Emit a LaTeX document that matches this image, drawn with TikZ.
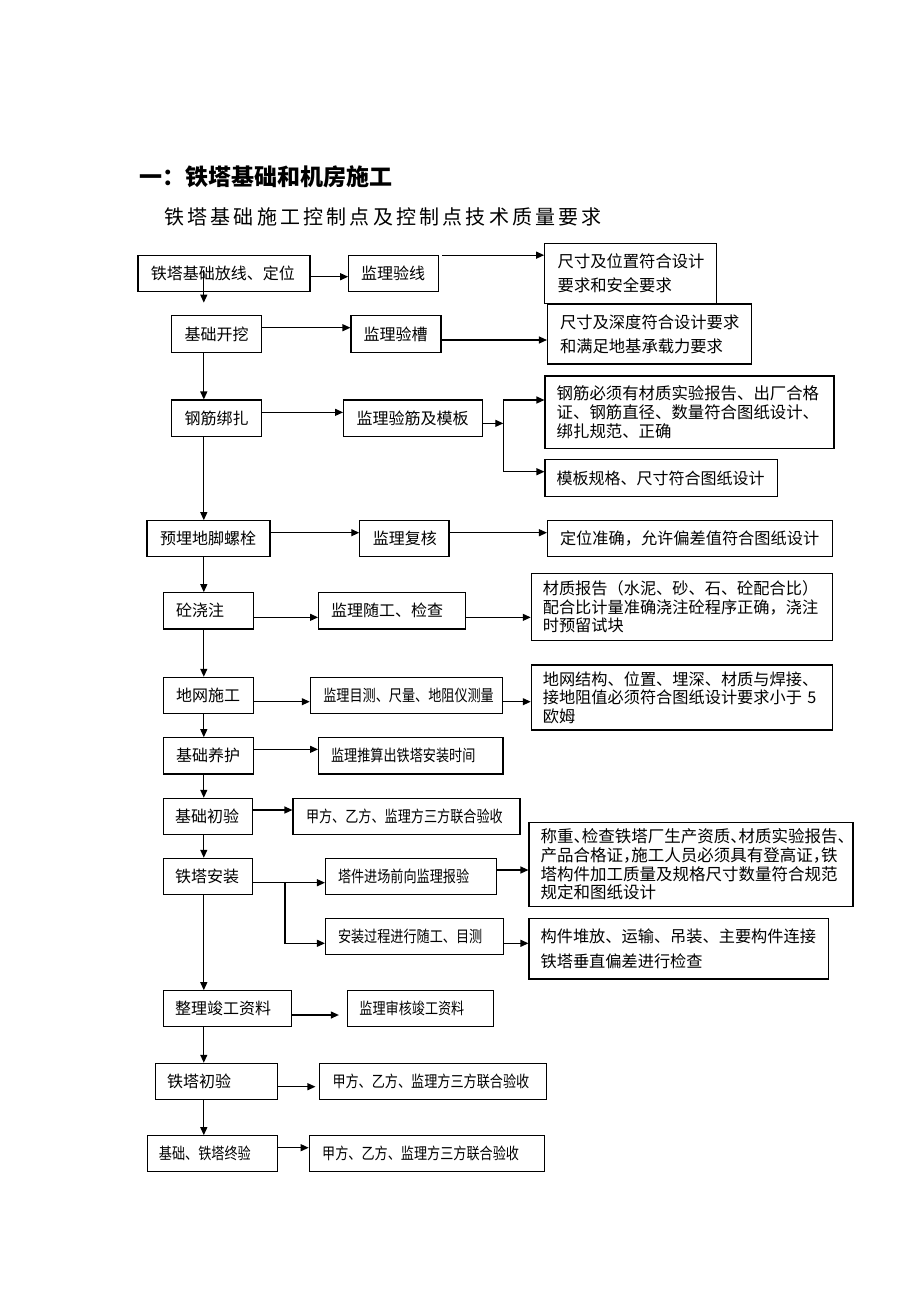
\documentclass[tikz,border=0pt]{standalone}
\usepackage{fontspec}
\setmainfont{Noto Sans CJK SC}
\usetikzlibrary{arrows.meta}
\newcommand\cn[1]{\scalebox{0.82}[1]{#1}}
\newcommand\hwp[1]{\makebox[0.5em][l]{#1}}
\newcommand\gp{\hspace{3.2pt}}
\newcommand\mkbox[8]{%
  \pgfmathsetmacro\mbcx{(#2+#4)/2}%
  \pgfmathsetmacro\mbcy{(#3+#5)/2}%
  \pgfmathsetmacro\mbtw{#4-#2-2*#6}%
  \pgfmathsetmacro\mbh{#5-#3}%
  \node[box,#7,text width=\mbtw pt,minimum height=\mbh pt,inner xsep=#6pt] (#1) at (\mbcx,\mbcy) {#8};}
\tikzset{
  box/.style={draw, line width=1.1pt, align=left, inner ysep=0pt,
    font=\fontsize{16}{19}\selectfont},
  arr/.style={line width=1.2pt, -{Triangle[length=8pt,width=7pt]}},
  ln/.style={line width=1.2pt},
  ttl/.style={inner sep=0pt, anchor=west}
}
\begin{document}
\begin{tikzpicture}[x=1pt,y=-1pt]
\useasboundingbox (0,0) rectangle (920,1302);
\fill[white] (0,0) rectangle (920,1302);
% titles
\node[ttl, font=\fontsize{23}{24}\selectfont\bfseries] (t1) at (139,177) {一：铁塔基础和机房施工};
\node[ttl, font=\fontsize{20}{22}\selectfont] (t2) at (164,216.5)
 {铁\gp 塔\gp 基\gp 础\gp 施\gp 工\gp 控\gp 制\gp 点\gp 及\gp 控\gp 制\gp 点\gp 技\gp 术\gp 质\gp 量\gp 要\gp 求};
\coordinate (colx) at (203.8,0);
% boxes
\mkbox{b1}{138}{255.7}{310}{291.7}{12.8}{}{铁塔基础放线、定位}
\mkbox{yx}{348.7}{255.7}{438.8}{291.7}{12.3}{}{监理验线}
\mkbox{jx1}{544.7}{243.3}{716.2}{303.3}{13}{font=\fontsize{16.3}{24.3}\selectfont}{尺寸及位置符合设计\\要求和安全要求}
\mkbox{kw}{171.6}{315.7}{261.3}{352.3}{13}{}{基础开挖}
\mkbox{yc}{351}{315.7}{441}{352.3}{12.5}{}{监理验槽}
\mkbox{jx2}{547.5}{304}{751.8}{364}{12.5}{font=\fontsize{16.3}{24.3}\selectfont}{尺寸及深度符合设计要求\\和满足地基承载力要求}
\mkbox{gj}{171.6}{400}{261.3}{436.7}{13}{}{钢筋绑扎}
\mkbox{yj}{343.6}{400}{482.3}{436.7}{13}{}{监理验筋及模板}
\mkbox{gb}{545}{376}{834}{448.3}{11.7}{font=\fontsize{16.4}{19.2}\selectfont}{钢筋必须有材质实验报告、出厂合格\\证、钢筋直径、数量符合图纸设计、\\绑扎规范、正确}
\mkbox{mb}{545}{459.3}{777.3}{496.7}{11.7}{}{模板规格、尺寸符合图纸设计}
\mkbox{yb}{147}{520.7}{270}{556.7}{13}{}{预埋地脚螺栓}
\mkbox{fh}{359.8}{520.7}{449}{556.7}{13}{}{监理复核}
\mkbox{dw}{547.5}{520.7}{832.7}{556.7}{12.5}{font=\fontsize{16.2}{19}\selectfont}{定位准确，允许偏差值符合图纸设计}
\mkbox{tj}{163.7}{592.7}{253.4}{629}{12.5}{}{砼浇注}
\mkbox{sg}{318.6}{592.7}{465.2}{629}{12.5}{}{监理随工、检查}
\mkbox{cz}{531.3}{573.3}{832.7}{640.7}{11.5}{font=\fontsize{16.2}{18.4}\selectfont}{材质报告（水泥、砂、石、砼配合比）\\配合比计量准确浇注砼程序正确，浇注\\时预留试块}
\mkbox{dwsg}{163.7}{677.3}{253.4}{713.3}{12.5}{}{地网施工}
\mkbox{mc}{310.3}{677.3}{502.2}{713.3}{13}{}{\cn{监理目测、尺量、地阻仪测量}}
\mkbox{dwj}{531.3}{665}{832.7}{730}{11.5}{font=\fontsize{16.2}{18.4}\selectfont}{地网结构、位置、埋深、材质与焊接、\\接地阻值必须符合图纸设计要求小于 5\\欧姆}
\mkbox{yh}{163.7}{737.7}{253.4}{774}{12.5}{}{基础养护}
\mkbox{ts}{318.6}{737.7}{503}{774}{12.5}{}{\cn{监理推算出铁塔安装时间}}
\mkbox{cy1}{163.5}{798.3}{252.4}{834.3}{11.7}{}{基础初验}
\mkbox{jf1}{293}{798.3}{520}{834.3}{13}{}{\cn{甲方、乙方、监理方三方联合验收}}
\mkbox{az}{163.5}{858.3}{252.4}{894.3}{11.7}{}{铁塔安装}
\mkbox{tjj}{325.5}{858.3}{496.4}{894.3}{12.5}{}{\cn{塔件进场前向监理报验}}
\mkbox{zz}{529}{822.3}{853}{906.7}{11.6}{font=\fontsize{16.5}{18.6}\selectfont}{称重\hwp{、}检查铁塔厂生产资质\hwp{、}材质实验报告\hwp{、}\\产品合格证\hwp{，}施工人员必须具有登高证\hwp{，}铁\\塔构件加工质量及规格尺寸数量符合规范\\规定和图纸设计}
\mkbox{az2}{325.5}{918.3}{503.8}{954.3}{12.5}{}{\cn{安装过程进行随工、目测}}
\mkbox{gjd}{529}{918.3}{828.3}{979}{11.6}{font=\fontsize{16.2}{25}\selectfont}{构件堆放、运输、吊装、主要构件连接\\铁塔垂直偏差进行检查}
\mkbox{zl}{163.5}{990.7}{291.5}{1026.7}{11.7}{}{整理竣工资料}
\mkbox{sh}{347.4}{990.7}{493.1}{1026.7}{12}{}{\cn{监理审核竣工资料}}
\mkbox{tc}{155.6}{1063.3}{277.1}{1099.3}{11.6}{}{铁塔初验}
\mkbox{jf2}{319.5}{1063.3}{546.7}{1099.3}{13}{}{\cn{甲方、乙方、监理方三方联合验收}}
\mkbox{zy}{147.2}{1135.7}{277.1}{1171.7}{11.7}{}{\cn{基础、铁塔终验}}
\mkbox{jf3}{309.2}{1135.7}{544.3}{1171.7}{13}{}{\cn{甲方、乙方、监理方三方联合验收}}
% vertical main flow
\draw[arr] ([yshift=4pt]b1.center -| colx) -- ([yshift=12.5pt]kw.north -| colx);
\draw[arr] (kw.south -| colx) -- (gj.north -| colx);
\draw[arr] (gj.south -| colx) -- (yb.north -| colx);
\draw[arr] (yb.south -| colx) -- (tj.north -| colx);
\draw[arr] (tj.south -| colx) -- (dwsg.north -| colx);
\draw[arr] (dwsg.south -| colx) -- (yh.north -| colx);
\draw[arr] (yh.south -| colx) -- (cy1.north -| colx);
\draw[arr] (cy1.south -| colx) -- (az.north -| colx);
\draw[arr] (az.south -| colx) -- (zl.north -| colx);
\draw[arr] (zl.south -| colx) -- (tc.north -| colx);
\draw[arr] (tc.south -| colx) -- (zy.north -| colx);
% horizontal arrows
\draw[arr] ([yshift=-3pt]b1.east) -- ([yshift=-3pt]yx.west);
\draw[arr] ([xshift=3pt]yx.north east) -- (jx1.west |- yx.north);
\draw[arr] ([yshift=6.3pt]kw.east) -- ([yshift=6.3pt]yc.west);
\draw[arr] ([yshift=-6pt]yc.east) -- ([yshift=-6pt]jx2.west |- yc.east);
\draw[arr] ([yshift=6pt]gj.east) -- ([yshift=6pt]yj.west);
\coordinate (br1) at (503.3,400);
\coordinate (br2) at (503.3,471.7);
\draw[arr] ([yshift=-5pt]yj.east) -- ([yshift=-5pt]yj.east -| br1);
\draw[ln] (br2) -- (br1);
\draw[arr] (br1) -- (gb.west |- br1);
\draw[arr] (br2) -- (mb.west |- br2);
\draw[arr] ([yshift=6pt]yb.east) -- ([yshift=6pt]fh.west);
\draw[arr] ([yshift=6pt]fh.east) -- ([yshift=6pt]fh.east -| dw.west);
\draw[arr] ([yshift=-6.5pt]tj.east) -- ([yshift=-6.5pt]sg.west);
\draw[arr] ([yshift=-6.5pt]sg.east) -- ([yshift=-6.5pt]sg.east -| cz.west);
\draw[arr] ([yshift=-6.4pt]dwsg.east) -- ([yshift=-6.4pt]mc.west);
\draw[arr] ([yshift=-6.4pt]mc.east) -- ([yshift=-6.4pt]mc.east -| dwj.west);
\draw[arr] ([yshift=6.5pt]yh.east) -- ([yshift=6.5pt]ts.west);
\draw[arr] ([yshift=6.3pt]cy1.east) -- ([yshift=6.3pt]jf1.west);
\coordinate (br3) at (285,882.7);
\draw[arr] ([yshift=-6.4pt]az.east) -- ([yshift=-6.4pt]tjj.west);
\draw[arr] (br3) |- ([yshift=-7pt]az2.west);
\draw[arr] ([yshift=6.3pt]tjj.east) -- ([yshift=6.3pt]tjj.east -| zz.west);
\draw[arr] ([yshift=-7pt]az2.east) -- ([yshift=-7pt]az2.east -| gjd.west);
\draw[arr] ([yshift=-6.3pt]zl.east) -- ([yshift=-6.3pt,xshift=-8pt]sh.west);
\draw[arr] ([yshift=-5.4pt]tc.east) -- ([yshift=-5.4pt,xshift=-3.5pt]jf2.west);
\draw[arr] ([yshift=6pt]zy.east) -- ([yshift=6pt]jf3.west);
\end{tikzpicture}
\end{document}
